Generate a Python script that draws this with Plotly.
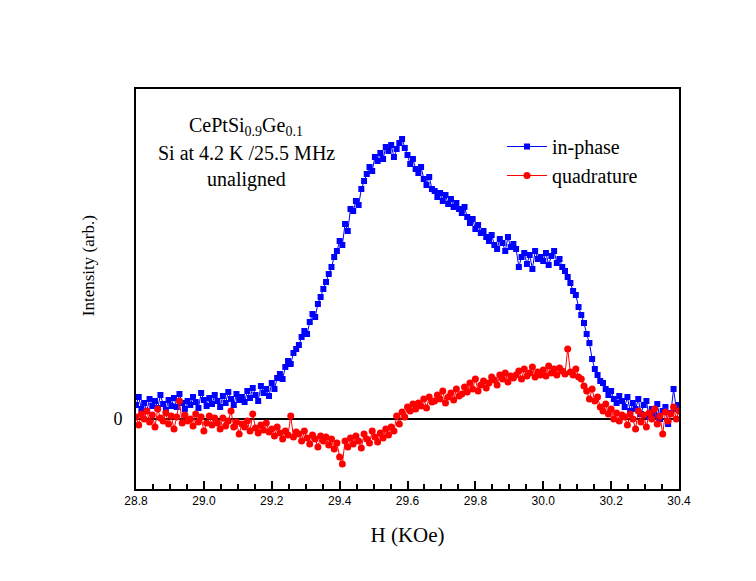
import numpy as np
import plotly.graph_objects as go

# Field sweep grid (KOe), 201 points from 28.8 to 30.4
field = np.round(np.linspace(28.8, 30.4, 201), 3)

in_phase = [
    0.14, 0.22, 0.10, 0.16, 0.08, 0.20, 0.13, 0.18, 0.11, 0.24,
    0.15, 0.09, 0.19, 0.13, 0.21, 0.12, 0.25, 0.16, 0.10, 0.18,
    0.14, 0.22, 0.17, 0.11, 0.26, 0.19, 0.13, 0.21, 0.15, 0.24,
    0.18, 0.12, 0.23, 0.16, 0.27, 0.20, 0.14, 0.25, 0.19, 0.22,
    0.17, 0.28, 0.21, 0.31, 0.24, 0.18, 0.33, 0.26, 0.30, 0.23,
    0.36, 0.30, 0.41, 0.45, 0.40, 0.52, 0.58, 0.55, 0.66, 0.70,
    0.74, 0.82, 0.88, 0.85, 0.97, 1.05, 1.02, 1.15, 1.22, 1.30,
    1.37, 1.45, 1.52, 1.62, 1.68, 1.78, 1.74, 1.95, 1.88, 2.10,
    2.08, 2.18, 2.14, 2.30, 2.38, 2.45, 2.52, 2.48, 2.62, 2.58,
    2.66, 2.60, 2.72, 2.68, 2.74, 2.62, 2.70, 2.76, 2.80, 2.71,
    2.64, 2.55, 2.60, 2.50, 2.46, 2.52, 2.40, 2.34, 2.42, 2.30,
    2.28, 2.22, 2.26, 2.18, 2.24, 2.15, 2.20, 2.12, 2.16, 2.10,
    2.06, 2.12, 2.02, 1.96, 2.00, 1.90, 1.94, 1.86, 1.88, 1.82,
    1.78, 1.84, 1.74, 1.70, 1.80, 1.76, 1.68, 1.82, 1.72, 1.75,
    1.70, 1.52, 1.62, 1.66, 1.55, 1.64, 1.50, 1.68, 1.60, 1.62,
    1.58, 1.66, 1.54, 1.63, 1.68, 1.56, 1.60, 1.52, 1.48, 1.42,
    1.36, 1.28, 1.24, 1.12, 1.04, 0.96, 0.85, 0.76, 0.60, 0.50,
    0.44, 0.38, 0.36, 0.30, 0.24, 0.28, 0.20, 0.16, 0.23, 0.18,
    0.12, 0.22, 0.08, 0.16, 0.10, 0.20, 0.05, 0.14, 0.18, 0.02,
    0.10, 0.04, 0.15, 0.00, 0.08, 0.12, -0.05, 0.06, 0.30, 0.10,
    0.14,
]

quadrature = [
    0.02, -0.06, 0.05, 0.00, 0.08, -0.03, 0.04, -0.08, 0.10, 0.01,
    -0.02, 0.06, -0.05, 0.03, -0.10, 0.02, 0.18, -0.04, 0.04, -0.02,
    0.00, -0.07, 0.05, -0.03, 0.02, -0.12, -0.04, 0.03, -0.06, 0.01,
    -0.04, -0.10, 0.01, -0.07, -0.02, 0.08, -0.08, -0.03, -0.15, -0.05,
    -0.08, -0.02, -0.12, 0.05, -0.09, -0.14, -0.06, -0.11, -0.04, -0.13,
    -0.10, -0.17, -0.08, -0.14, -0.20, -0.12, -0.16, 0.03, -0.18, -0.13,
    -0.15, -0.22, -0.12, -0.19, -0.25, -0.16, -0.20, -0.28, -0.17, -0.22,
    -0.18, -0.26, -0.20, -0.30, -0.24, -0.38, -0.45, -0.22, -0.28, -0.19,
    -0.25, -0.17, -0.22, -0.29, -0.15, -0.20, -0.24, -0.12, -0.18, -0.23,
    -0.14, -0.19, -0.10, -0.16, -0.08, -0.12, 0.03, -0.05, 0.07, 0.02,
    0.12, 0.08, 0.15, 0.10, 0.16, 0.13, 0.20, 0.11, 0.22, 0.17,
    0.18, 0.24, 0.20, 0.28, 0.16, 0.22, 0.26, 0.19, 0.30, 0.23,
    0.25, 0.32, 0.27, 0.36, 0.30, 0.40, 0.28, 0.34, 0.38, 0.31,
    0.36, 0.42, 0.39, 0.34, 0.44, 0.40, 0.46, 0.37, 0.43, 0.41,
    0.44, 0.48, 0.40, 0.50, 0.43, 0.46, 0.52, 0.42, 0.47, 0.44,
    0.49, 0.43, 0.53, 0.46, 0.50, 0.44, 0.51, 0.48, 0.45, 0.70,
    0.47, 0.44, 0.50, 0.42, 0.40, 0.33, 0.28, 0.20, 0.30, 0.18,
    0.22, 0.12, 0.08, 0.15, 0.05, 0.10, 0.00, 0.06, -0.02, 0.04,
    0.02, -0.06, 0.05, 0.00, -0.10, 0.08, -0.03, 0.04, -0.08, 0.06,
    0.00, 0.10, -0.05, 0.03, -0.15, 0.07, -0.02, 0.05, 0.12, 0.00,
    0.08,
]

x_tick_vals = [28.8, 29.0, 29.2, 29.4, 29.6, 29.8, 30.0, 30.2, 30.4]
x_tick_text = ["28.8", "29.0", "29.2", "29.4", "29.6", "29.8", "30.0", "30.2", "30.4"]
y_tick_vals = [0]
y_tick_text = ["0"]

serif = "Liberation Serif, Times New Roman, serif"

fig = go.Figure()
fig.add_trace(go.Scatter(
    x=field, y=in_phase, mode="lines+markers", name="in-phase",
    line=dict(color="#0000ff", width=1),
    marker=dict(symbol="square", size=6, color="#0000ff"),
))
fig.add_trace(go.Scatter(
    x=field, y=quadrature, mode="lines+markers", name="quadrature",
    line=dict(color="#ff0000", width=1),
    marker=dict(symbol="circle", size=7, color="#ff0000"),
))

fig.update_layout(
    width=756, height=581,
    margin=dict(l=128, r=85, t=81, b=100),
    paper_bgcolor="white", plot_bgcolor="white",
    showlegend=True,
    legend=dict(
        x=0.674, y=0.905, xanchor="left", yanchor="top",
        bgcolor="rgba(0,0,0,0)",
        font=dict(family=serif, size=20, color="black"),
        tracegroupgap=0, itemwidth=40,
    ),
    xaxis=dict(
        range=[28.8, 30.4], showgrid=False, zeroline=False,
        showline=True, linecolor="black", linewidth=2, mirror=True,
        ticks="inside", ticklen=8, tickwidth=1.5, tickcolor="black",
        tickvals=x_tick_vals, ticktext=x_tick_text,
        minor=dict(ticks="inside", dtick=0.05, tick0=28.8, ticklen=5, tickwidth=1.5, tickcolor="black"),
        tickfont=dict(family="Liberation Sans Narrow, Liberation Sans, Arial", size=12, color="black"),
        title=dict(text="H (KOe)", font=dict(family=serif, size=21, color="black"), standoff=20),
    ),
    yaxis=dict(
        range=[-0.7, 3.3], showgrid=False,
        zeroline=True, zerolinecolor="black", zerolinewidth=2,
        showline=True, linecolor="black", linewidth=2, mirror=True,
        ticks="", tickvals=y_tick_vals, ticktext=y_tick_text,
        tickfont=dict(family=serif, size=18, color="black"),
        ticklabelstandoff=8,
    ),
)

# y-axis title placed as in the reference (above the axis centre)
fig.add_annotation(
    x=-0.088, y=0.5575, xref="paper", yref="paper", xanchor="center", yanchor="middle",
    text="Intensity (arb.)", textangle=-90, showarrow=False,
    font=dict(family=serif, size=17, color="black"),
)

label_lines = [
    "CePtSi<sub>0.9</sub>Ge<sub>0.1</sub>",
    "Si at 4.2 K /25.5 MHz",
    "unaligned",
]
label_y = [0.905, 0.84, 0.775]
for txt, yy in zip(label_lines, label_y):
    fig.add_annotation(
        x=0.2026, y=yy, xref="paper", yref="paper", xanchor="center", yanchor="middle",
        text=txt, showarrow=False,
        font=dict(family=serif, size=20, color="black"),
    )

fig.write_html("out.html")
